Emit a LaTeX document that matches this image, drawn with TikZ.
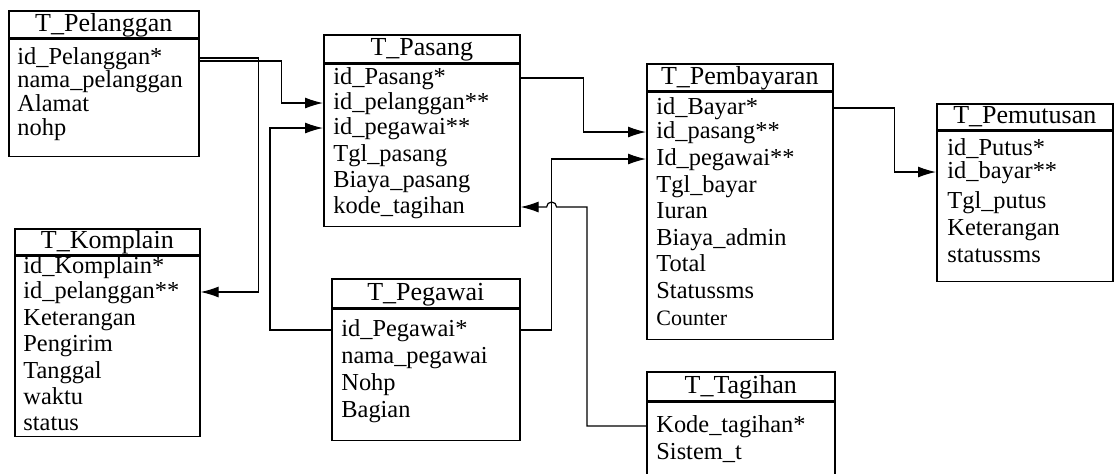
\documentclass[tikz,border=0pt]{standalone}
\usepackage{fontspec}
\setmainfont{Liberation Serif}
\usetikzlibrary{positioning, calc, arrows.meta}

\tikzset{
  hdr/.style={draw, line width=0.8pt, inner sep=0pt, anchor=north west, text height=9pt, text depth=2pt, font=\fontsize{13}{15}\selectfont},
  tbl/.style={draw, line width=0.8pt, inner sep=0pt, below=0pt of #1},
  fld/.style={anchor=west, inner sep=0pt, text height=8.5pt, text depth=2.5pt, font=\fontsize{12.2}{14}\selectfont},
  fk/.style={line width=0.6pt, -{Latex[length=9pt,width=5.5pt]}}
}

\begin{document}
\begin{tikzpicture}[x=0.5pt, y=-0.5pt]
      \useasboundingbox (0,0) rectangle (1115,473);
      % T_Pelanggan
      \node[hdr, minimum width=95pt, minimum height=13.5pt] (pelh) at (8,10) {T\_Pelanggan};
      \node[tbl=pelh, minimum width=95pt, minimum height=58.5pt] (pel) {};
      \node[fld] (pel1) at (17,58) {id\_Pelanggan*};
      \node[fld] (pel2) at (17,81) {nama\_pelanggan};
      \node[fld] (pel3) at (17,105) {Alamat};
      \node[fld] (pel4) at (17,129) {nohp};
      % T_Komplain
      \node[hdr, minimum width=92.5pt, minimum height=13pt] (komh) at (14,228) {T\_Komplain};
      \node[tbl=komh, minimum width=92.5pt, minimum height=90pt] (kom) {};
      \node[fld] (kom1) at (23,267) {id\_Komplain*};
      \node[fld] (kom2) at (23,292) {id\_pelanggan**};
      \node[fld] (kom3) at (23,319) {Keterangan};
      \node[fld] (kom4) at (23,345) {Pengirim};
      \node[fld] (kom5) at (23,372) {Tanggal};
      \node[fld] (kom6) at (23,398) {waktu};
      \node[fld] (kom7) at (23,424) {status};
      % T_Pasang
      \node[hdr, minimum width=98pt, minimum height=14pt] (pash) at (323,34) {T\_Pasang};
      \node[tbl=pash, minimum width=98pt, minimum height=81pt] (pas) {};
      \node[fld] (pas1) at (333,78) {id\_Pasang*};
      \node[fld] (pas2) at (333,103) {id\_pelanggan**};
      \node[fld] (pas3) at (333,128) {id\_pegawai**};
      \node[fld] (pas4) at (333,155) {Tgl\_pasang};
      \node[fld] (pas5) at (333,181) {Biaya\_pasang};
      \node[fld] (pas6) at (333,207) {kode\_tagihan};
      % T_Pegawai
      \node[hdr, minimum width=94pt, minimum height=14.5pt] (pegh) at (331,278) {T\_Pegawai};
      \node[tbl=pegh, minimum width=94pt, minimum height=65.5pt] (peg) {};
      \node[fld] (peg1) at (341,330) {id\_Pegawai*};
      \node[fld] (peg2) at (341,357) {nama\_pegawai};
      \node[fld] (peg3) at (341,384) {Nohp};
      \node[fld] (peg4) at (341,411) {Bagian};
      % T_Pembayaran
      \node[hdr, minimum width=93pt, minimum height=13.5pt] (bayh) at (646,63) {T\_Pembayaran};
      \node[tbl=bayh, minimum width=93pt, minimum height=123.5pt] (bay) {};
      \node[fld] (bay1) at (656,108) {id\_Bayar*};
      \node[fld] (bay2) at (656,132) {id\_pasang**};
      \node[fld] (bay3) at (656,159) {Id\_pegawai**};
      \node[fld] (bay4) at (656,186) {Tgl\_bayar};
      \node[fld] (bay5) at (656,212) {Iuran};
      \node[fld] (bay6) at (656,239) {Biaya\_admin};
      \node[fld] (bay7) at (656,265) {Total};
      \node[fld] (bay8) at (656,292) {Statussms};
      \node[fld, font=\fontsize{11}{13}\selectfont] (bay9) at (656,319) {Counter};
      % T_Pemutusan
      \node[hdr, minimum width=88pt, minimum height=13pt] (puth) at (936,103) {T\_Pemutusan};
      \node[tbl=puth, minimum width=88pt, minimum height=75pt] (put) {};
      \node[fld] (put1) at (947,149) {id\_Putus*};
      \node[fld] (put2) at (947,172) {id\_bayar**};
      \node[fld] (put3) at (947,202) {Tgl\_putus};
      \node[fld] (put4) at (947,229) {Keterangan};
      \node[fld] (put5) at (947,256) {statussms};
      % T_Tagihan
      \node[hdr, minimum width=94pt, minimum height=14.5pt] (tagh) at (646,371) {T\_Tagihan};
      \node[tbl=tagh, minimum width=94pt, minimum height=40pt] (tag) {};
      \node[fld] (tag1) at (656,426) {Kode\_tagihan*};
      \node[fld] (tag2) at (656,453) {Sistem\_t};
      % relasi
      \draw[fk] (pel1 -| pel.east) -- ++(59,0) |- (kom2 -| kom.east);
      \draw[fk] ($(pel1 -| pel.east)+(0,3)$) -- ++(82,0) |- (pas2 -| pas.west);
      \draw[fk] (peg1 -| peg.west) -- ++(-61,0) |- (pas3 -| pas.west);
      \draw[fk] (peg1 -| peg.east) -- ++(31,0) |- (bay3 -| bay.west);
      \draw[fk] (pas1 -| pas.east) -- ++(63,0) |- (bay2 -| bay.west);
      \draw[fk] (bay1 -| bay.east) -- ++(61,0) |- (put2 -| put.west);
      \draw[fk] (tag1 -| tag.west) -- ++(-59,0) |- ($(pas6 -| pas.east)+(36,0)$)
        arc[start angle=0, end angle=180, radius=2.5pt] -- (pas6 -| pas.east);
\end{tikzpicture}
\end{document}
